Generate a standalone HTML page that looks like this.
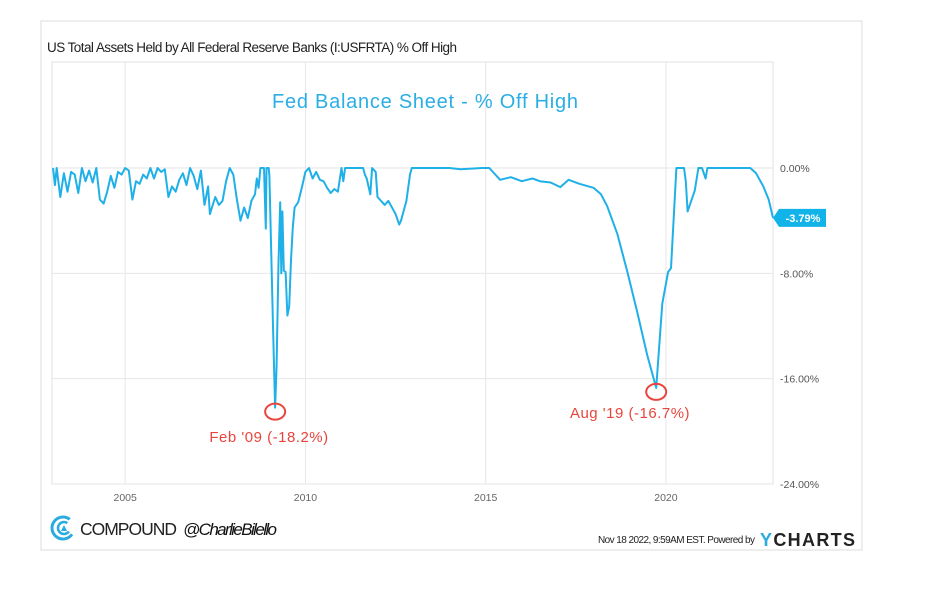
<!DOCTYPE html>
<html><head><meta charset="utf-8">
<style>
body{margin:0;background:#fff;width:940px;height:585px;overflow:hidden;font-family:"Liberation Sans",sans-serif;}
</style></head>
<body>
<svg id="c" width="940" height="585" xmlns="http://www.w3.org/2000/svg">
<rect x="41" y="21" width="821" height="529" fill="#fff" stroke="#dcdcdc"/>
<text x="47" y="52" font-size="13.5" fill="#222" textLength="410">US Total Assets Held by All Federal Reserve Banks (I:USFRTA) % Off High</text>
<rect x="52" y="62" width="721" height="422" fill="none" stroke="#e0e0e0"/>
<g id="grid"></g>
<text x="425" y="108" font-size="20" fill="#2aaee4" text-anchor="middle" textLength="306">Fed Balance Sheet - % Off High</text>
<g id="marks"></g>
<g id="axes"></g>
<g>
<circle cx="63" cy="528" r="11" fill="none" stroke="#29abe2" stroke-width="3" stroke-dasharray="52 17" transform="rotate(35 63 528)"/>
<circle cx="64" cy="528" r="6" fill="none" stroke="#29abe2" stroke-width="2.5" stroke-dasharray="28 10" transform="rotate(35 64 528)"/>
<polygon points="64,525 67,531 61,531" fill="#29abe2"/>
</g>
<text x="80" y="535" font-size="17.5" fill="#222" textLength="97">COMPOUND</text>
<text x="183" y="535" font-size="17" fill="#111" font-style="italic" textLength="94">@CharlieBilello</text>
<text x="598" y="543" font-size="10" fill="#222" textLength="157">Nov 18 2022, 9:59AM EST.  Powered by</text>
<text x="760" y="546" font-size="18" font-weight="bold" fill="#222" textLength="95"><tspan fill="#29abe2">Y</tspan>CHARTS</text>
</svg>
<script>
const xMin=2002.97, xMax=2022.97, yMin=-24, yMax=0;
const L=52,R=773,T=168,B=484;
const yTicks=[0,-8,-16,-24];
const yTickLabels=["0.00%","-8.00%","-16.00%","-24.00%"];
const xTicks=[2005,2010,2015,2020];
const years=[2003.0,2003.05,2003.1,2003.2,2003.3,2003.4,2003.5,2003.6,2003.7,2003.8,2003.9,2004.0,2004.1,2004.2,2004.3,2004.4,2004.5,2004.6,2004.7,2004.8,2004.9,2005.0,2005.1,2005.2,2005.3,2005.4,2005.5,2005.6,2005.7,2005.8,2005.9,2006.0,2006.1,2006.2,2006.3,2006.4,2006.5,2006.6,2006.7,2006.8,2006.9,2007.0,2007.1,2007.2,2007.3,2007.35,2007.5,2007.6,2007.7,2007.8,2007.9,2008.0,2008.1,2008.2,2008.3,2008.4,2008.5,2008.6,2008.65,2008.7,2008.75,2008.85,2008.9,2008.92,2008.98,2009.0,2009.1,2009.16,2009.2,2009.25,2009.3,2009.33,2009.36,2009.4,2009.45,2009.5,2009.55,2009.6,2009.65,2009.7,2009.8,2009.9,2010.0,2010.1,2010.2,2010.3,2010.4,2010.5,2010.6,2010.7,2010.8,2010.9,2011.0,2011.05,2011.1,2011.6,2011.65,2011.7,2011.8,2011.85,2011.95,2012.0,2012.2,2012.3,2012.4,2012.5,2012.6,2012.65,2012.7,2012.8,2012.9,2012.95,2014.0,2014.3,2014.9,2015.1,2015.4,2015.7,2016.0,2016.3,2016.5,2016.8,2017.07,2017.3,2017.6,2017.99,2018.2,2018.37,2018.65,2018.93,2019.2,2019.48,2019.73,2019.9,2020.06,2020.14,2020.29,2020.5,2020.55,2020.6,2020.8,2020.9,2021.0,2021.1,2021.15,2021.5,2022.0,2022.34,2022.5,2022.7,2022.85,2022.97];
const values=[0,-1.3,0,-2.2,-0.4,-1.8,-0.3,-0.5,-1.9,0,-1.0,-0.2,-1.1,0,-2.4,-2.7,-1.8,-0.6,-1.5,-0.3,-0.5,0,-0.2,-2.4,-1.0,-1.2,-0.5,-0.8,0,-0.8,0,-0.3,-0.1,-2.2,-1.4,-1.8,-0.9,-0.4,-1.3,0,-0.6,-1.6,-0.2,-2.8,-1.4,-3.5,-2.2,-2.8,-2.5,-1.0,0,-0.5,-2.4,-4.0,-3.0,-3.8,-2.5,-2.0,-0.8,-1.5,0,0,-4.6,0,0,-0.6,-12,-18.2,-15,-7.5,-2.6,-8,-3.3,-7.8,-7.9,-11.2,-10.5,-7.0,-4.5,-3.0,-2.6,-1.5,-0.3,0,-0.8,-0.3,-0.9,-1.0,-1.5,-1.9,-1.6,-1.8,0,-1.0,0,0,-0.5,-0.8,-2.0,0,-0.3,-2.2,-2.8,-2.5,-3.0,-3.5,-4.3,-4.0,-3.5,-2.5,-0.5,0,0,-0.1,0,0,-0.9,-0.7,-1.0,-0.8,-1.0,-1.1,-1.45,-0.9,-1.2,-1.5,-2.0,-2.9,-5.0,-7.9,-10.9,-14.2,-16.7,-10.3,-7.9,-7.6,0,0,-1.0,-3.3,-1.7,0,0,-0.8,0,0,0,0,-0.4,-1.4,-2.4,-3.79];
const lastLabel="-3.79%";
const NS="http://www.w3.org/2000/svg";
const xs=v=>L+(v-xMin)/(xMax-xMin)*(R-L);
const ys=v=>T+(v-yMax)/(yMin-yMax)*(B-T);
function mk(tag,attrs,parent){const e=document.createElementNS(NS,tag);for(const k in attrs)e.setAttribute(k,attrs[k]);parent.appendChild(e);return e;}
const grid=document.getElementById('grid'),axes=document.getElementById('axes'),marks=document.getElementById('marks');
yTicks.forEach((t,i)=>{
 const g=mk('line',{x1:L,x2:R,y1:ys(t),y2:ys(t),stroke:'#e6e6e6'},grid);
 
 
 const tx=mk('text',{x:780,y:ys(t)+4,'font-size':10.5,fill:'#555'},axes);
 tx.textContent=yTickLabels[i];
 
 
});
xTicks.forEach(t=>{
 const g=mk('line',{x1:xs(t),x2:xs(t),y1:62,y2:B,stroke:'#e6e6e6'},grid);
 
 
 const tx=mk('text',{x:xs(t),y:501,'font-size':10.5,fill:'#666','text-anchor':'middle'},axes);
 tx.textContent=String(t);
 
 
});
const pts=years.map((y,i)=>xs(y).toFixed(1)+','+ys(values[i]).toFixed(1)).join(' ');
const line=mk('polyline',{points:pts,fill:'none',stroke:'#1fb0e8','stroke-width':2,'stroke-linejoin':'round'},marks);


function annot(yr,val,label,tx,ty){
 const c=mk('ellipse',{cx:xs(yr),cy:ys(val)+4,rx:10,ry:8,fill:'none',stroke:'#e8453c','stroke-width':2},marks);
 
 
 const t=mk('text',{x:tx,y:ty,'font-size':15,fill:'#e8453c','text-anchor':'middle','letter-spacing':'0.5'},marks);
 t.textContent=label;
 
 
}
annot(2009.16,-18.2,"Feb '09 (-18.2%)",269,442);
annot(2019.73,-16.7,"Aug '19 (-16.7%)",630,418);
const ly=ys(values[values.length-1]);
const badge=mk('polygon',{points:`${R},${ly} ${R+6},${ly-9} ${R+53},${ly-9} ${R+53},${ly+9} ${R+6},${ly+9}`,fill:'#12b3e8'},marks);


const bt=mk('text',{x:R+30,y:ly+4,'font-size':11,'font-weight':'bold',fill:'#fff','text-anchor':'middle'},marks);
bt.textContent=lastLabel;


</script>
</body></html>
